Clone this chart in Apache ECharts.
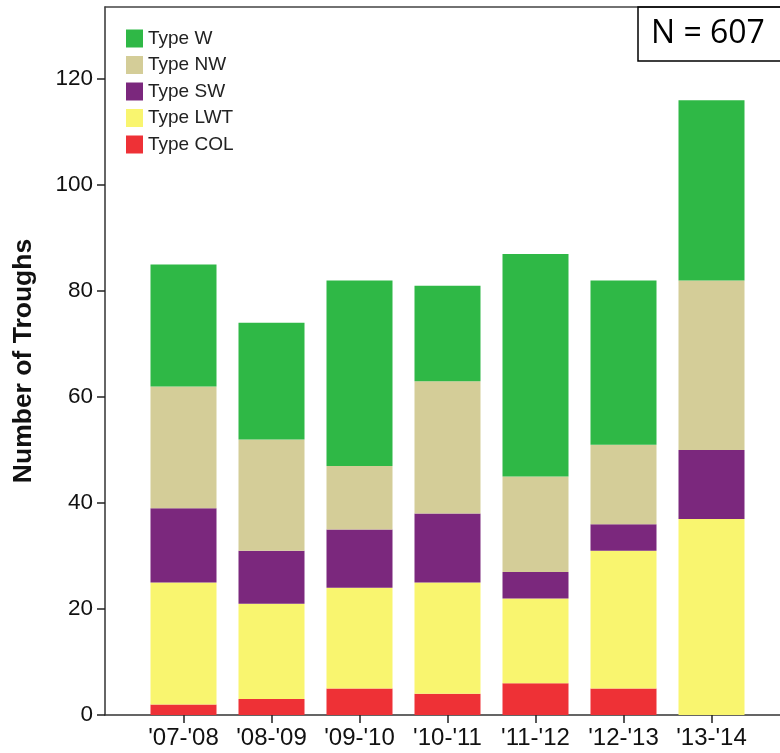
<!DOCTYPE html>
<html>
<head>
<meta charset="utf-8">
<script src="https://cdn.jsdelivr.net/npm/echarts@6/dist/echarts.min.js"></script>
<style>
html,body{margin:0;padding:0;background:#fff;}
#chart{width:780px;height:753px;}
</style>
</head>
<body>
<div id="chart"></div>
<script>
const seasons = ["'07-'08", "'08-'09", "'09-'10", "'10-'11", "'11-'12", "'12-'13", "'13-'14"];
const typeCOL = [2, 3, 5, 4, 6, 5, 0];
const typeLWT = [23, 18, 19, 21, 16, 26, 37];
const typeSW  = [14, 10, 11, 13, 5, 5, 13];
const typeNW  = [23, 21, 12, 25, 18, 15, 32];
const typeW   = [23, 22, 35, 18, 42, 31, 34];
const yTicks = [0, 20, 40, 60, 80, 100, 120];
const legendNames = ['Type W', 'Type NW', 'Type SW', 'Type LWT', 'Type COL'];
const totalN = 607;

const colors = {
  'Type W': '#2fb846',
  'Type NW': '#d4cd98',
  'Type SW': '#7b287d',
  'Type LWT': '#f9f56f',
  'Type COL': '#ee3136'
};
const yMax = 133.6;
const font = 'Liberation Sans, Arial, sans-serif';

const stackOrder = [
  ['Type COL', typeCOL],
  ['Type LWT', typeLWT],
  ['Type SW', typeSW],
  ['Type NW', typeNW],
  ['Type W', typeW]
];

const chart = echarts.init(document.getElementById('chart'), null, {renderer: 'canvas'});
chart.setOption({
  animation: false,
  backgroundColor: '#ffffff',
  title: {
    text: 'N = ' + totalN,
    left: 638,
    top: 7,
    borderColor: '#000',
    borderWidth: 1.5,
    padding: [11, 60, 11, 13],
    textStyle: {fontFamily: 'Open Sans, sans-serif', fontSize: 32, fontWeight: 'normal', color: '#000'}
  },
  legend: {
    data: legendNames,
    orient: 'vertical',
    left: 121,
    top: 24,
    icon: 'rect',
    itemWidth: 17,
    itemHeight: 18,
    itemGap: 7.5,
    textStyle: {fontFamily: font, fontSize: 19, color: '#222'}
  },
  grid: [
    {left: 139.5, right: 24.5, top: 7, bottom: 38},
    {left: 105, right: 0, top: 7, bottom: 38}
  ],
  xAxis: [
    {
      type: 'category', gridIndex: 0, data: seasons,
      axisLine: {show: false},
      axisTick: {show: true, alignWithLabel: true, length: 8, lineStyle: {color: '#222', width: 1.5}},
      axisLabel: {interval: 0, hideOverlap: false, fontFamily: font, fontSize: 24, color: '#111', margin: 11}
    },
    {
      type: 'value', gridIndex: 1, min: 0, max: 1, position: 'bottom',
      axisLine: {show: true, lineStyle: {color: '#333', width: 1.5}},
      axisTick: {show: false}, axisLabel: {show: false}, splitLine: {show: false}
    },
    {
      type: 'value', gridIndex: 1, min: 0, max: 1, position: 'top',
      axisLine: {show: true, lineStyle: {color: '#444', width: 1.5}},
      axisTick: {show: false}, axisLabel: {show: false}, splitLine: {show: false}
    }
  ],
  yAxis: [
    {type: 'value', gridIndex: 0, min: 0, max: yMax, show: false, splitLine: {show: false}},
    {
      type: 'value', gridIndex: 1, min: 0, max: yMax,
      axisLine: {show: true, lineStyle: {color: '#333', width: 1.5}},
      axisTick: {show: true, length: 8, customValues: yTicks, lineStyle: {color: '#222', width: 1.5}},
      axisLabel: {customValues: yTicks, fontFamily: font, fontSize: 22.5, color: '#111', margin: 12},
      splitLine: {show: false},
      name: 'Number of Troughs',
      nameLocation: 'middle',
      nameGap: 68,
      nameTextStyle: {fontFamily: font, fontSize: 26.5, fontWeight: 'bold', color: '#111'}
    }
  ],
  series: stackOrder.map(([name, vals]) => ({
    name: name,
    type: 'bar',
    stack: 'total',
    xAxisIndex: 0,
    yAxisIndex: 0,
    barWidth: 66,
    data: vals,
    itemStyle: {color: colors[name]}
  }))
});
</script>
</body>
</html>
